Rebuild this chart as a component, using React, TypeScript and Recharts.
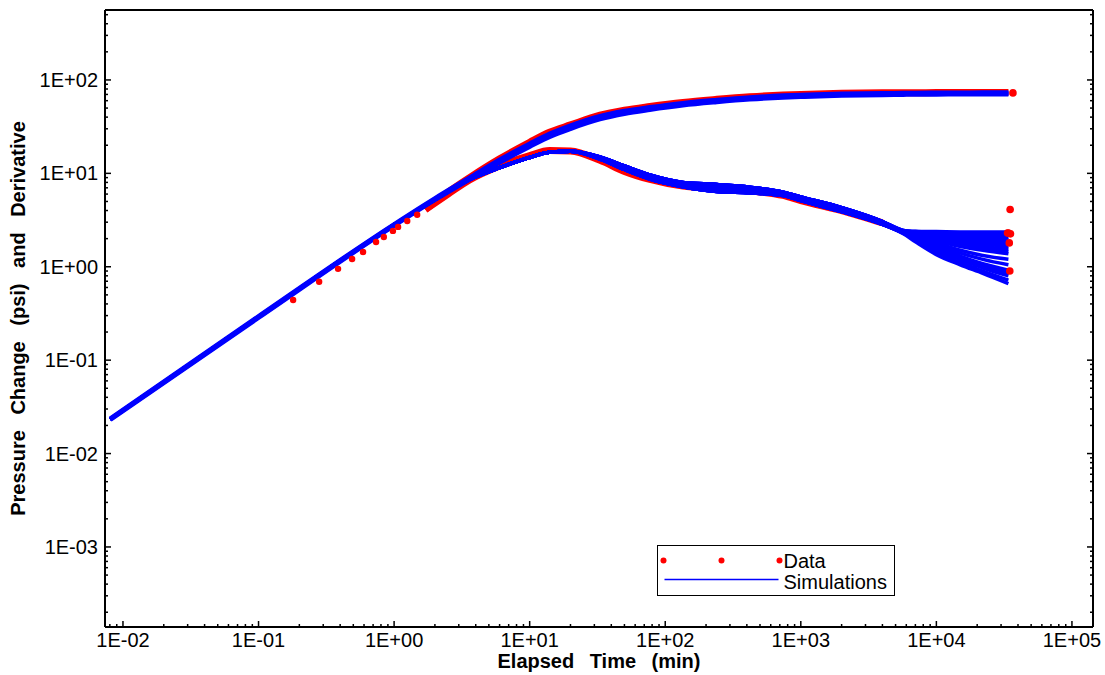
// Log-log pressure change / derivative diagnostic plot (Recharts)
import { ComposedChart, Line, XAxis, YAxis, Legend } from 'recharts';

const X_MIN = 0.00737;
const X_MAX = 143000;
const Y_MIN = 0.000139;
const Y_MAX = 561;

const X_DECADES = [0.001, 0.01, 0.1, 1, 10, 100, 1000, 10000, 100000];
const X_LABELS = ['', '1E-02', '1E-01', '1E+00', '1E+01', '1E+02', '1E+03', '1E+04', '1E+05'];
const Y_DECADES = [0.0001, 0.001, 0.01, 0.1, 1, 10, 100];
const Y_LABELS = ['', '1E-03', '1E-02', '1E-01', '1E+00', '1E+01', '1E+02'];
const MINOR_STEPS = [1, 2, 3, 4, 5, 6, 7, 8, 9];

// simulation time grid (min)
const SIM_T = [0.00805, 0.1, 1, 2, 3.6, 6, 10, 14, 20, 33, 50, 77, 135, 240, 420, 740, 1000, 2000, 4000, 5700, 7000, 10000, 15000, 22000, 34000];

// simulated pressure change (psi)
const SIM_P_A = [0.0236, 0.295, 2.85, 5.4, 9.0, 14.0, 20.8, 26.5, 32.5, 41, 46.5, 51, 56.5, 61, 65, 68, 69, 71, 72, 72.4, 72.6, 72.8, 73, 73.2, 73.3];
const SIM_P_B = [0.0233, 0.29, 2.8, 5.3, 8.8, 13.5, 20, 25.5, 31, 39.5, 45, 49.5, 55, 59.5, 63.5, 66.5, 67.5, 69.5, 70.5, 71, 71.2, 71.4, 71.6, 71.8, 72];
const SIM_P_C = [0.023, 0.285, 2.75, 5.2, 8.6, 13.1, 19.3, 24.6, 30, 38, 43.5, 48, 53.5, 58, 62, 65, 66, 68, 69.2, 69.6, 69.8, 70, 70.2, 70.4, 70.5];

// simulated derivative: shared early part, three middle variants, late fan
const SIM_D_EARLY = [0.0233, 0.29, 2.8, 5.25, 8.6, 11.5, 14.8, 16.8, 17.2];
const SIM_D_MID_A = [15.0, 12.0, 9.6, 8.0, 7.6, 7.1, 6.3, 5.6, 4.3, 3.05];
const SIM_D_MID_B = [14.6, 11.4, 9.1, 7.6, 7.0, 6.6, 6.0, 5.3, 4.1, 2.95];
const SIM_D_MID_C = [14.2, 11.0, 8.7, 7.2, 6.4, 6.2, 5.8, 5.1, 3.9, 2.85];
const SIM_D_LATE = [
  [2.45, 2.4, 2.38, 2.36, 2.35, 2.35],
  [2.45, 2.38, 2.33, 2.3, 2.27, 2.25],
  [2.45, 2.35, 2.3, 2.25, 2.2, 2.15],
  [2.4, 2.32, 2.25, 2.17, 2.1, 2.05],
  [2.4, 2.3, 2.2, 2.1, 2.0, 1.95],
  [2.4, 2.27, 2.15, 2.02, 1.92, 1.85],
  [2.4, 2.25, 2.1, 1.95, 1.85, 1.75],
  [2.4, 2.22, 2.05, 1.88, 1.75, 1.65],
  [2.4, 2.2, 2.0, 1.8, 1.65, 1.55],
  [2.38, 2.17, 1.95, 1.72, 1.57, 1.46],
  [2.35, 2.15, 1.9, 1.65, 1.5, 1.38],
  [2.35, 2.1, 1.8, 1.5, 1.32, 1.2],
  [2.35, 2.05, 1.7, 1.4, 1.2, 1.05],
  [2.3, 2.0, 1.6, 1.3, 1.08, 0.92],
  [2.3, 1.97, 1.55, 1.25, 1.02, 0.86],
  [2.3, 1.95, 1.5, 1.2, 0.97, 0.8],
  [2.3, 1.9, 1.42, 1.12, 0.9, 0.72],
  [2.25, 1.85, 1.35, 1.05, 0.85, 0.66],
];

// measured data
const DATA_EARLY_T = [0.18, 0.28, 0.386, 0.49, 0.59, 0.736, 0.84, 0.98, 1.07, 1.25, 1.48];
const DATA_EARLY_P = [0.44, 0.69, 0.95, 1.21, 1.44, 1.84, 2.08, 2.42, 2.67, 3.09, 3.6];
const DATA_P_T = [1.7, 2.5, 3.6, 6, 10, 14, 20, 33, 50, 77, 135, 240, 420, 740, 1000, 2000, 4000, 7000, 10000, 20000, 34000];
const DATA_P = [4.1, 6.3, 9.0, 14.3, 21.5, 27.5, 33, 42, 47.5, 52, 57.5, 62, 66, 69, 70, 72, 72.8, 73, 73.2, 73.4, 73.5];
const DATA_D_T = [1.7, 2.5, 3.6, 6, 10, 14, 20, 33, 50, 77, 135, 240, 420, 740, 1000, 2000, 4000];
const DATA_D = [4.1, 6.0, 8.5, 12, 15.5, 17.6, 17.4, 13.8, 10.5, 8.6, 7.3, 6.9, 6.5, 5.8, 5.1, 4.0, 2.95];
const DATA_LATE_T = [33500, 34000, 34500, 35000, 34800, 35200, 36700];
const DATA_LATE_P = [2.3, 2.3, 1.8, 4.1, 0.9, 2.25, 72.7];

const pts = (ts: number[], ps: number[]) => ts.map((t, i) => ({ t, p: ps[i] }));

const minorTicks = (decades: number[], lo: number, hi: number) =>
  decades.flatMap(d => MINOR_STEPS.map(s => d * s)).filter(v => v >= lo && v <= hi);

const X_TICKS = minorTicks(X_DECADES, X_MIN, X_MAX);
const Y_TICKS = minorTicks(Y_DECADES, Y_MIN, Y_MAX);

const PRESSURE_SIMS = [SIM_P_A, SIM_P_B, SIM_P_C];
const DERIV_SIMS = SIM_D_LATE.map((late, i) => {
  const mid = i < 6 ? SIM_D_MID_A : i < 12 ? SIM_D_MID_B : SIM_D_MID_C;
  return [...SIM_D_EARLY, ...mid, ...late];
});

const FONT = '"Liberation Sans", Arial, sans-serif';

function makeTick(side: 'bottom' | 'top' | 'left' | 'right', decades: number[], labels: string[] | null) {
  return (props: any) => {
    const { x, y, payload } = props;
    const v = payload.value;
    const i = decades.findIndex(d => Math.abs(v / d - 1) < 1e-6);
    const len = i >= 0 ? 6 : 3;
    const label = labels && i >= 0 ? labels[i] : '';
    if (side === 'bottom') {
      return (
        <g>
          <line x1={x} y1={y} x2={x} y2={y - len} stroke="#000" strokeWidth={1.5} />
          {label && (
            <text x={x} y={y + 20} textAnchor="middle" fontSize={20} fontFamily={FONT} fill="#000">{label}</text>
          )}
        </g>
      );
    }
    if (side === 'top') {
      return <line x1={x} y1={y} x2={x} y2={y + len} stroke="#000" strokeWidth={1.5} />;
    }
    if (side === 'left') {
      return (
        <g>
          <line x1={x} y1={y} x2={x + len} y2={y} stroke="#000" strokeWidth={1.5} />
          {label && (
            <text x={x - 7} y={y + 7} textAnchor="end" fontSize={20} fontFamily={FONT} fill="#000">{label}</text>
          )}
        </g>
      );
    }
    return <line x1={x} y1={y} x2={x - len} y2={y} stroke="#000" strokeWidth={1.5} />;
  };
}

function XTitle(props: any) {
  const { x, y, width } = props.viewBox;
  return (
    <text x={x + width / 2} y={y + 41} textAnchor="middle" fontSize={20} fontWeight="bold"
      fontFamily={FONT} fill="#000" style={{ wordSpacing: '10px' }}>
      Elapsed Time (min)
    </text>
  );
}

function YTitle(props: any) {
  const { x, y, height } = props.viewBox;
  const cx = x + 25;
  const cy = y + height / 2;
  return (
    <text x={cx} y={cy} transform={`rotate(-90, ${cx}, ${cy})`} textAnchor="middle" fontSize={20}
      fontWeight="bold" fontFamily={FONT} fill="#000" style={{ wordSpacing: '10px' }}>
      Pressure Change (psi) and Derivative
    </text>
  );
}

function LegendBox() {
  return (
    <div style={{ width: 236, height: 49, border: '1.5px solid #000', background: '#fff' }}>
      <svg width={236} height={49} style={{ display: 'block' }}>
        <circle cx={5.5} cy={14.5} r={3} fill="#ff0000" />
        <circle cx={63.5} cy={14.5} r={3} fill="#ff0000" />
        <circle cx={121.5} cy={14.5} r={3} fill="#ff0000" />
        <text x={125.5} y={21.5} fontSize={20} fontFamily={FONT} fill="#000">Data</text>
        <line x1={6.5} y1={33.5} x2={120.5} y2={33.5} stroke="#0000ff" strokeWidth={1.5} />
        <text x={125.5} y={42.5} fontSize={20} fontFamily={FONT} fill="#000">Simulations</text>
      </svg>
    </div>
  );
}

const AXIS_LINE = { stroke: '#000', strokeWidth: 2 };

export default function App() {
  return (
    <div style={{ position: 'absolute', left: 0, top: 0, width: 1105, height: 675, background: '#fff', fontFamily: FONT }}>
      <ComposedChart width={1105} height={675} margin={{ top: 9, right: 11, bottom: 0, left: 0 }}>
        <XAxis
          xAxisId="x" dataKey="t" type="number" scale="log" domain={[X_MIN, X_MAX]} allowDataOverflow
          ticks={X_TICKS} interval={0} tickSize={0} tickMargin={0} height={48}
          axisLine={AXIS_LINE} tickLine={false} tick={makeTick('bottom', X_DECADES, X_LABELS)}
          label={<XTitle />}
        />
        <XAxis
          xAxisId="top" orientation="top" type="number" scale="log" domain={[X_MIN, X_MAX]} allowDataOverflow
          ticks={X_TICKS} interval={0} tickSize={0} tickMargin={0} height={1}
          axisLine={AXIS_LINE} tickLine={false} tick={makeTick('top', X_DECADES, null)}
        />
        <YAxis
          yAxisId="y" type="number" scale="log" domain={[Y_MIN, Y_MAX]} allowDataOverflow
          ticks={Y_TICKS} interval={0} tickSize={0} tickMargin={0} width={105}
          axisLine={AXIS_LINE} tickLine={false} tick={makeTick('left', Y_DECADES, Y_LABELS)}
          label={<YTitle />}
        />
        <YAxis
          yAxisId="right" orientation="right" type="number" scale="log" domain={[Y_MIN, Y_MAX]} allowDataOverflow
          ticks={Y_TICKS} interval={0} tickSize={0} tickMargin={0} width={1}
          axisLine={AXIS_LINE} tickLine={false} tick={makeTick('right', Y_DECADES, null)}
        />
        <Legend layout="horizontal" verticalAlign="middle" align="center"
          wrapperStyle={{ left: 657, top: 545, width: 'auto', height: 'auto' }} content={<LegendBox />} />

        {/* measured data: dense band */}
        <Line xAxisId="x" yAxisId="y" data={pts(DATA_P_T, DATA_P)} dataKey="p" type="monotone"
          stroke="#ff0000" strokeWidth={7} dot={false} isAnimationActive={false} legendType="none" />
        <Line xAxisId="x" yAxisId="y" data={pts(DATA_D_T, DATA_D)} dataKey="p" type="monotone"
          stroke="#ff0000" strokeWidth={7} dot={false} isAnimationActive={false} legendType="none" />

        {/* simulations */}
        {PRESSURE_SIMS.map((ps, i) => (
          <Line key={'p' + i} xAxisId="x" yAxisId="y" data={pts(SIM_T, ps)} dataKey="p" type="monotone"
            stroke="#0000ff" strokeWidth={4.5} dot={false} isAnimationActive={false} legendType="none" />
        ))}
        {DERIV_SIMS.map((ds, i) => (
          <Line key={'d' + i} xAxisId="x" yAxisId="y" data={pts(SIM_T, ds)} dataKey="p" type="monotone"
            stroke="#0000ff" strokeWidth={3.5} dot={false} isAnimationActive={false} legendType="none" />
        ))}

        {/* measured data: sparse points */}
        <Line xAxisId="x" yAxisId="y" data={pts(DATA_EARLY_T, DATA_EARLY_P)} dataKey="p" stroke="none"
          dot={{ r: 3.2, fill: '#ff0000', stroke: 'none' }} isAnimationActive={false} legendType="none" />
        <Line xAxisId="x" yAxisId="y" data={pts(DATA_LATE_T, DATA_LATE_P)} dataKey="p" stroke="none"
          dot={{ r: 3.8, fill: '#ff0000', stroke: 'none' }} isAnimationActive={false} legendType="none" />
      </ComposedChart>
    </div>
  );
}
